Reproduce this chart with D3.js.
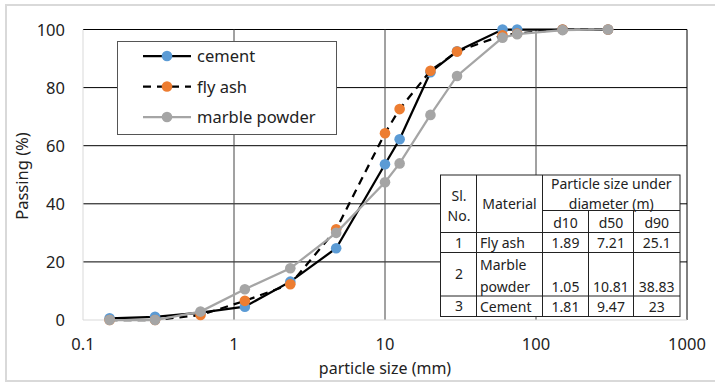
<!DOCTYPE html>
<html>
<head>
<meta charset="utf-8">
<script src="https://cdn.jsdelivr.net/npm/d3@7"></script>
<style>
  body { margin: 0; background: #fff; }
  text { font-family: "Noto Sans", sans-serif; fill: #222; }
</style>
</head>
<body>
<div id="chart"></div>
<script>
var width = 715, height = 383;

// sieve sizes (mm)
var sizes = [0.15, 0.3, 0.6, 1.18, 2.36, 4.75, 10, 12.5, 20, 30, 60, 75, 150, 300];
// passing (%)
var cement = [0.6, 1.1, 2.5, 4.6, 13.2, 24.7, 53.6, 62.2, 85.3, 92.5, 100, 100, 100, 100];
var flyAsh = [0, 0, 1.7, 6.6, 12.3, 31.2, 64.3, 72.6, 85.8, 92.4, 98, 98.6, 100, 100];
var marble = [0, 0, 2.9, 10.6, 17.8, 30, 47.4, 53.9, 70.6, 84, 97.2, 98.4, 99.8, 100];

var xTicks = [0.1, 1, 10, 100, 1000];
var yTicks = [0, 20, 40, 60, 80, 100];

var seriesNames = ["cement", "fly ash", "marble powder"];
var markerColors = ["#5b9bd5", "#ed7d31", "#a5a5a5"];
var lineColors = ["#000", "#000", "#a5a5a5"];
var lineDash = [null, "8,6", null];

// table
var tableHead = ["Sl. No.", "Material", "Particle size under diameter (m)"];
var tableSub = ["d10", "d50", "d90"];
var tableNo = ["1", "2", "3"];
var tableMat = ["Fly ash", "Marble powder", "Cement"];
var tableVals = [["1.89", "7.21", "25.1"], ["1.05", "10.81", "38.83"], ["1.81", "9.47", "23"]];

var svg = d3.select("#chart").append("svg")
    .attr("width", width)
    .attr("height", height);

// outer chart border
svg.append("rect")
    .attr("x", 6).attr("y", 5)
    .attr("width", 716).attr("height", 376)
    .attr("fill", "#fff")
    .attr("stroke", "#d9d9d9")
    .attr("stroke-width", 2);

var x = d3.scaleLog().domain([0.1, 1000]).range([83, 687]);
var y = d3.scaleLinear().domain([0, 100]).range([320, 29.5]);

// grid
svg.append("g").selectAll("line")
    .data(yTicks.slice(1))
    .enter().append("line")
    .attr("x1", x(0.1)).attr("x2", x(1000))
    .attr("y1", function (d) { return y(d); })
    .attr("y2", function (d) { return y(d); })
    .attr("stroke", "#000").attr("stroke-width", 1);

svg.append("g").selectAll("line")
    .data(xTicks.slice(1))
    .enter().append("line")
    .attr("x1", function (d) { return x(d); })
    .attr("x2", function (d) { return x(d); })
    .attr("y1", y(0)).attr("y2", y(100))
    .attr("stroke", function (d) { return d == 1000 ? "#000" : "#444"; })
    .attr("stroke-width", 1);

// axes lines
svg.append("line")
    .attr("x1", x(0.1)).attr("x2", x(0.1))
    .attr("y1", y(0)).attr("y2", y(100))
    .attr("stroke", "#d9d9d9");
svg.append("line")
    .attr("x1", x(0.1)).attr("x2", x(1000))
    .attr("y1", y(0)).attr("y2", y(0))
    .attr("stroke", "#d9d9d9");

// tick labels
svg.append("g").selectAll("text")
    .data(yTicks)
    .enter().append("text")
    .attr("x", 65)
    .attr("y", function (d) { return y(d) + 6; })
    .attr("text-anchor", "end")
    .style("font-size", "16.5px")
    .text(function (d) { return d; });

svg.append("g").selectAll("text")
    .data(xTicks)
    .enter().append("text")
    .attr("x", function (d) { return x(d); })
    .attr("y", 350)
    .attr("text-anchor", "middle")
    .style("font-size", "16.5px")
    .text(function (d) { return d; });

// axis titles
svg.append("text")
    .attr("transform", "translate(28,176) rotate(-90)")
    .attr("text-anchor", "middle")
    .style("font-size", "16.5px")
    .text("Passing (%)");

svg.append("text")
    .attr("x", 385).attr("y", 374)
    .attr("text-anchor", "middle")
    .style("font-size", "16px")
    .text("particle size (mm)");

// series
var allSeries = [cement, flyAsh, marble];
var line = d3.line()
    .x(function (d, i) { return x(sizes[i]); })
    .y(function (d) { return y(d); });

allSeries.forEach(function (vals, k) {
    var g = svg.append("g");
    g.append("path")
        .attr("d", line(vals))
        .attr("fill", "none")
        .attr("stroke", lineColors[k])
        .attr("stroke-width", 2.25)
        .attr("stroke-dasharray", lineDash[k]);
    g.selectAll("circle")
        .data(vals)
        .enter().append("circle")
        .attr("cx", function (d, i) { return x(sizes[i]); })
        .attr("cy", function (d) { return y(d); })
        .attr("r", 5.3)
        .attr("fill", markerColors[k]);
});

// legend
var legend = svg.append("g");
legend.append("rect")
    .attr("x", 117.5).attr("y", 41.5)
    .attr("width", 219).attr("height", 93)
    .attr("fill", "#fff")
    .attr("stroke", "#555");

seriesNames.forEach(function (name, k) {
    var ly = 56 + k * 30.5;
    legend.append("line")
        .attr("x1", 143).attr("x2", 191)
        .attr("y1", ly).attr("y2", ly)
        .attr("stroke", lineColors[k])
        .attr("stroke-width", 2.25)
        .attr("stroke-dasharray", lineDash[k]);
    legend.append("circle")
        .attr("cx", 167).attr("cy", ly).attr("r", 5.3)
        .attr("fill", markerColors[k]);
    legend.append("text")
        .attr("x", 197).attr("y", ly + 6)
        .style("font-size", "16.5px")
        .text(name);
});

// table
var cols = [440.5, 476.5, 542.5, 588.5, 633.5, 680];
var rows = [175, 210.5, 232.5, 252.5, 296, 316.5];
var tbl = svg.append("g").style("font-size", "14px");
tbl.append("rect")
    .attr("x", cols[0]).attr("y", rows[0])
    .attr("width", cols[5] - cols[0]).attr("height", rows[5] - rows[0])
    .attr("fill", "#fff").attr("stroke", "#222");

function hline(x1, x2, yy) {
    tbl.append("line").attr("x1", x1).attr("x2", x2).attr("y1", yy).attr("y2", yy).attr("stroke", "#222");
}
function vline(xx, y1, y2) {
    tbl.append("line").attr("x1", xx).attr("x2", xx).attr("y1", y1).attr("y2", y2).attr("stroke", "#222");
}
hline(cols[2], cols[5], rows[1]);
hline(cols[0], cols[5], rows[2]);
hline(cols[0], cols[5], rows[3]);
hline(cols[0], cols[5], rows[4]);
vline(cols[1], rows[0], rows[5]);
vline(cols[2], rows[0], rows[5]);
vline(cols[3], rows[1], rows[5]);
vline(cols[4], rows[1], rows[5]);

function cell(txt, xx, yy, anchor) {
    tbl.append("text").attr("x", xx).attr("y", yy)
        .attr("text-anchor", anchor || "middle").text(txt);
}
cell("Sl.", 459, 201);
cell("No.", 459, 221);
cell(tableHead[1], (cols[1] + cols[2]) / 2, 209);
cell("Particle size under", (cols[2] + cols[5]) / 2, 189);
cell("diameter (m)", (cols[2] + cols[5]) / 2, 209);
tableSub.forEach(function (s, i) {
    cell(s, (cols[2 + i] + cols[3 + i]) / 2, 228);
});
var rowY = [[248], [270, 292], [312]];
tableNo.forEach(function (n, r) {
    var last = rowY[r][rowY[r].length - 1];
    var mid = (rows[2 + r] + rows[3 + r]) / 2 + 5;
    cell(n, 459, mid);
    var parts = r == 1 ? ["Marble", "powder"] : [tableMat[r]];
    parts.forEach(function (p, j) {
        cell(p, 480, rowY[r][j], "start");
    });
    tableVals[r].forEach(function (v, i) {
        cell(v, (cols[2 + i] + cols[3 + i]) / 2, last);
    });
});
</script>
</body>
</html>
